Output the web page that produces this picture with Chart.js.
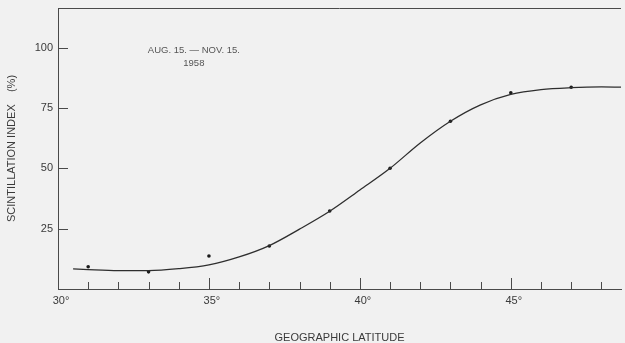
<!DOCTYPE html>
<html>
<head>
<meta charset="utf-8">
<script src="https://cdn.jsdelivr.net/npm/chart.js@4/dist/chart.umd.min.js"></script>
<style>
html,body{margin:0;padding:0;background:#f1f1f1;}
canvas{display:block;}
</style>
</head>
<body>
<canvas id="c" width="625" height="343"></canvas>
<script>
// Fitted curve
const curveLat = [30.5, 31, 32, 33, 34, 35, 36, 37, 38, 39, 40, 41, 42, 43, 44, 45, 46, 47, 48, 48.65];
const curveIdx = [8.3, 8.0, 7.6, 7.6, 8.4, 10.0, 13.3, 18.0, 24.8, 32.2, 41.0, 50.0, 60.5, 69.5, 76.3, 80.6, 82.6, 83.4, 83.7, 83.6];
// Observed points
const obsLat = [31, 33, 35, 37, 39, 41, 43, 45, 47];
const obsIdx = [9.2, 7.1, 13.7, 17.8, 32.3, 50.0, 69.5, 81.3, 83.6];
// Tick labels
const xTickValues = [30, 35, 40, 45];
const yTickValues = [25, 50, 75, 100];
const noteLines = ['AUG. 15. \u2014 NOV. 15.', '1958'];

const ink = '#3a3a3a';
const FONT = '"Liberation Sans", Arial, sans-serif';

function zeroPad(s) { s.paddingLeft = 0; s.paddingRight = 0; s.paddingTop = 0; s.paddingBottom = 0; }

const decor = {
  id: 'decor',
  afterDraw(chart) {
    const ctx = chart.ctx;
    const xs = chart.scales.x, ys = chart.scales.y;
    const a = chart.chartArea;
    ctx.save();
    ctx.strokeStyle = '#4a4a4a';
    ctx.lineWidth = 1;
    // top frame line
    ctx.beginPath();
    ctx.moveTo(a.left, Math.round(a.top) + 0.5);
    ctx.lineTo(a.right, Math.round(a.top) + 0.5);
    ctx.stroke();
    // x ticks pointing inward
    for (let d = 31; d <= 48; d++) {
      const px = Math.round(xs.getPixelForValue(d)) + 0.5;
      const len = (d % 5 === 0) ? 11 : 7;
      ctx.beginPath();
      ctx.moveTo(px, a.bottom);
      ctx.lineTo(px, a.bottom - len);
      ctx.stroke();
    }
    // y ticks pointing inward
    yTickValues.forEach(v => {
      const py = Math.round(ys.getPixelForValue(v)) + 0.5;
      ctx.beginPath();
      ctx.moveTo(a.left, py);
      ctx.lineTo(a.left + 10, py);
      ctx.stroke();
    });
    // note
    ctx.fillStyle = '#555';
    ctx.font = '9.5px ' + FONT;
    ctx.textAlign = 'center';
    ctx.textBaseline = 'middle';
    const nx = xs.getPixelForValue(34.5);
    ctx.fillText(noteLines[0], nx, ys.getPixelForValue(99));
    ctx.fillText(noteLines[1], nx, ys.getPixelForValue(93.6));
    ctx.restore();
  }
};

new Chart(document.getElementById('c'), {
  type: 'scatter',
  data: {
    datasets: [
      {
        type: 'line',
        data: curveLat.map((x, i) => ({x, y: curveIdx[i]})),
        borderColor: '#2e2e2e',
        borderWidth: 1.3,
        pointRadius: 0,
        cubicInterpolationMode: 'monotone',
        fill: false
      },
      {
        data: obsLat.map((x, i) => ({x, y: obsIdx[i]})),
        backgroundColor: '#1a1a1a',
        borderColor: '#1a1a1a',
        pointRadius: 1.8,
        borderWidth: 0
      }
    ]
  },
  plugins: [decor],
  options: {
    responsive: false,
    animation: false,
    devicePixelRatio: 1,
    layout: {padding: {top: 8, left: 0, right: 0, bottom: 0}},
    plugins: {legend: {display: false}, tooltip: {enabled: false}},
    scales: {
      x: {
        type: 'linear',
        min: 30, max: 48.65,
        afterFit(s) { s.height = 54; zeroPad(s); },
        afterBuildTicks(s) { s.ticks = xTickValues.map(v => ({value: v})); },
        grid: {drawOnChartArea: false, drawTicks: false},
        border: {display: true, color: '#4a4a4a', width: 1},
        ticks: {
          color: ink, font: {family: FONT, size: 11}, padding: 5, labelOffset: 3,
          maxRotation: 0, autoSkip: false,
          callback: v => v + '\u00b0'
        },
        title: {
          display: true, text: 'GEOGRAPHIC LATITUDE', color: ink,
          font: {family: FONT, size: 11, lineHeight: 1.0}, padding: {top: 0, bottom: 0}
        }
      },
      y: {
        type: 'linear',
        min: 0, max: 116.4,
        afterFit(s) { s.width = 58; zeroPad(s); },
        afterBuildTicks(s) { s.ticks = yTickValues.map(v => ({value: v})); },
        grid: {drawOnChartArea: false, drawTicks: false},
        border: {display: true, color: '#4a4a4a', width: 1},
        ticks: {color: ink, font: {family: FONT, size: 11}, padding: 5, autoSkip: false},
        title: {
          display: true, text: 'SCINTILLATION INDEX\u00a0\u00a0\u00a0\u00a0(%)', color: ink,
          font: {family: FONT, size: 11}, padding: {top: 5, bottom: 0}
        }
      }
    }
  }
});
</script>
</body>
</html>
